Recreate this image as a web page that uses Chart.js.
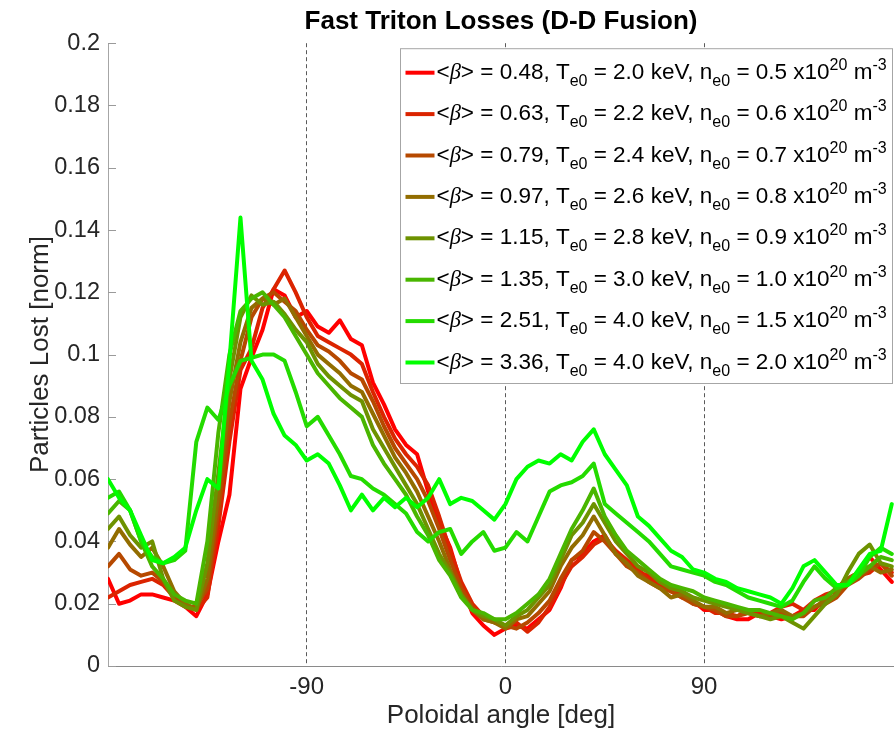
<!DOCTYPE html>
<html>
<head>
<meta charset="utf-8">
<script src="https://cdn.jsdelivr.net/npm/chart.js@4.4.1/dist/chart.umd.min.js"></script>
<style>
  html, body { margin: 0; padding: 0; background: #fff; }
  #wrap { width: 894px; height: 734px; }
</style>
</head>
<body>
<div id="wrap"><canvas id="chart" width="894" height="734"></canvas></div>
<script>
// Poloidal angle grid (deg)
const angles = [-180, -175, -170, -165, -160, -155, -150, -145, -140, -135, -130, -125,
  -120, -115, -110, -105, -100, -95, -90, -85, -80, -75, -70, -65,
  -60, -55, -50, -45, -40, -35, -30, -25, -20, -15, -10, -5,
  0, 5, 10, 15, 20, 25, 30, 35, 40, 45, 50, 55,
  60, 65, 70, 75, 80, 85, 90, 95, 100, 105, 110, 115,
  120, 125, 130, 135, 140, 145, 150, 155, 160, 165, 170, 175];

// Legend parameters
const betaValues = ['0.48', '0.63', '0.79', '0.97', '1.15', '1.35', '2.51', '3.36'];
const teValues = ['2.0', '2.2', '2.4', '2.6', '2.8', '3.0', '4.0', '4.0'];
const neValues = ['0.5', '0.6', '0.7', '0.8', '0.9', '1.0', '1.5', '2.0'];

// Particles lost [norm], one array per case
const loss048 = [0.028, 0.020, 0.021, 0.023, 0.023, 0.022, 0.021, 0.019, 0.016, 0.023, 0.040, 0.055,
  0.089, 0.099, 0.108, 0.121, 0.119, 0.112, 0.114, 0.109, 0.107, 0.111, 0.105, 0.103,
  0.091, 0.084, 0.076, 0.071, 0.068, 0.056, 0.046, 0.038, 0.026, 0.017, 0.013, 0.010,
  0.012, 0.013, 0.012, 0.015, 0.018, 0.025, 0.034, 0.036, 0.040, 0.042, 0.036, 0.033,
  0.030, 0.029, 0.027, 0.024, 0.022, 0.021, 0.018, 0.018, 0.016, 0.015, 0.015, 0.017,
  0.016, 0.015, 0.016, 0.018, 0.018, 0.022, 0.025, 0.028, 0.030, 0.035, 0.031, 0.027];
const loss063 = [0.022, 0.024, 0.026, 0.027, 0.028, 0.026, 0.022, 0.020, 0.018, 0.022, 0.045, 0.072,
  0.095, 0.102, 0.115, 0.121, 0.127, 0.120, 0.112, 0.106, 0.104, 0.102, 0.100, 0.097,
  0.088, 0.080, 0.073, 0.068, 0.064, 0.058, 0.048, 0.037, 0.027, 0.020, 0.016, 0.014,
  0.013, 0.014, 0.011, 0.014, 0.019, 0.026, 0.032, 0.035, 0.039, 0.041, 0.037, 0.034,
  0.031, 0.028, 0.026, 0.024, 0.023, 0.020, 0.019, 0.017, 0.017, 0.016, 0.018, 0.017,
  0.017, 0.019, 0.020, 0.018, 0.021, 0.023, 0.024, 0.027, 0.029, 0.030, 0.033, 0.030];
const loss079 = [0.032, 0.036, 0.031, 0.029, 0.030, 0.027, 0.022, 0.019, 0.019, 0.025, 0.050, 0.078,
  0.098, 0.112, 0.118, 0.120, 0.117, 0.114, 0.108, 0.103, 0.101, 0.098, 0.094, 0.092,
  0.085, 0.077, 0.070, 0.065, 0.060, 0.053, 0.044, 0.034, 0.025, 0.019, 0.015, 0.014,
  0.013, 0.012, 0.014, 0.017, 0.021, 0.028, 0.034, 0.037, 0.043, 0.040, 0.036, 0.032,
  0.030, 0.027, 0.025, 0.024, 0.022, 0.020, 0.019, 0.018, 0.016, 0.016, 0.017, 0.016,
  0.016, 0.017, 0.016, 0.016, 0.019, 0.020, 0.022, 0.026, 0.028, 0.031, 0.033, 0.029];
const loss097 = [0.038, 0.044, 0.039, 0.035, 0.038, 0.032, 0.024, 0.020, 0.018, 0.028, 0.055, 0.085,
  0.104, 0.115, 0.118, 0.116, 0.118, 0.112, 0.106, 0.100, 0.097, 0.094, 0.090, 0.088,
  0.081, 0.074, 0.067, 0.062, 0.056, 0.048, 0.040, 0.031, 0.023, 0.018, 0.015, 0.014,
  0.012, 0.015, 0.016, 0.020, 0.024, 0.032, 0.038, 0.042, 0.048, 0.042, 0.036, 0.033,
  0.029, 0.027, 0.025, 0.022, 0.023, 0.021, 0.019, 0.019, 0.017, 0.018, 0.017, 0.016,
  0.017, 0.018, 0.016, 0.017, 0.019, 0.021, 0.023, 0.028, 0.030, 0.032, 0.030, 0.031];
const loss115 = [0.044, 0.048, 0.042, 0.038, 0.040, 0.028, 0.021, 0.019, 0.018, 0.033, 0.062, 0.092,
  0.112, 0.119, 0.116, 0.117, 0.113, 0.108, 0.104, 0.097, 0.093, 0.090, 0.087, 0.085,
  0.076, 0.070, 0.064, 0.058, 0.052, 0.044, 0.036, 0.030, 0.023, 0.018, 0.016, 0.015,
  0.013, 0.016, 0.018, 0.022, 0.026, 0.034, 0.042, 0.046, 0.052, 0.046, 0.040, 0.036,
  0.032, 0.030, 0.027, 0.025, 0.024, 0.022, 0.021, 0.020, 0.019, 0.018, 0.017, 0.016,
  0.015, 0.016, 0.014, 0.012, 0.016, 0.020, 0.023, 0.030, 0.036, 0.039, 0.033, 0.032];
const loss135 = [0.049, 0.053, 0.050, 0.040, 0.032, 0.028, 0.023, 0.021, 0.020, 0.040, 0.075, 0.100,
  0.114, 0.118, 0.120, 0.116, 0.112, 0.106, 0.100, 0.094, 0.090, 0.086, 0.083, 0.080,
  0.071, 0.065, 0.060, 0.055, 0.048, 0.042, 0.034, 0.029, 0.022, 0.018, 0.017, 0.015,
  0.015, 0.017, 0.020, 0.023, 0.028, 0.036, 0.044, 0.050, 0.057, 0.048, 0.042, 0.037,
  0.034, 0.031, 0.028, 0.026, 0.025, 0.024, 0.022, 0.021, 0.020, 0.019, 0.018, 0.018,
  0.017, 0.016, 0.015, 0.017, 0.021, 0.022, 0.025, 0.027, 0.029, 0.032, 0.035, 0.034];
const loss251 = [0.054, 0.056, 0.050, 0.040, 0.035, 0.033, 0.034, 0.037, 0.072, 0.083, 0.079, 0.090,
  0.098, 0.099, 0.100, 0.100, 0.098, 0.088, 0.077, 0.080, 0.074, 0.068, 0.061, 0.060,
  0.057, 0.055, 0.052, 0.049, 0.043, 0.040, 0.043, 0.044, 0.036, 0.040, 0.043, 0.037,
  0.038, 0.043, 0.040, 0.048, 0.056, 0.058, 0.059, 0.061, 0.065, 0.052, 0.049, 0.046,
  0.043, 0.040, 0.036, 0.032, 0.031, 0.030, 0.029, 0.027, 0.026, 0.024, 0.022, 0.021,
  0.020, 0.019, 0.021, 0.027, 0.032, 0.028, 0.025, 0.026, 0.029, 0.035, 0.038, 0.036];
const loss336 = [0.060, 0.054, 0.050, 0.042, 0.034, 0.033, 0.035, 0.038, 0.050, 0.060, 0.057, 0.098,
  0.144, 0.098, 0.092, 0.081, 0.074, 0.071, 0.066, 0.068, 0.065, 0.058, 0.050, 0.055,
  0.050, 0.054, 0.051, 0.054, 0.051, 0.054, 0.060, 0.052, 0.054, 0.053, 0.050, 0.047,
  0.052, 0.060, 0.064, 0.066, 0.065, 0.068, 0.066, 0.072, 0.076, 0.068, 0.063, 0.058,
  0.048, 0.045, 0.041, 0.037, 0.035, 0.031, 0.030, 0.028, 0.027, 0.025, 0.024, 0.023,
  0.022, 0.020, 0.025, 0.032, 0.034, 0.030, 0.026, 0.026, 0.031, 0.036, 0.037, 0.052];

const allLosses = [loss048, loss063, loss079, loss097, loss115, loss135, loss251, loss336];

// Axis ticks
const xTicks = [-90, 0, 90];
const yTicks = [0, 0.02, 0.04, 0.06, 0.08, 0.1, 0.12, 0.14, 0.16, 0.18, 0.2];

// red -> green
const lineColors = ['#ff0000', '#db2400', '#b64900', '#926d00', '#6d9200', '#49b600', '#24db00', '#00ff00'];

const FONT = "'Liberation Sans', Arial, Helvetica, sans-serif";
const TXT = '#262626';

// MATLAB style inner ticks on the y axis
const innerTicks = {
  id: 'innerTicks',
  beforeDatasetsDraw(chart) {
    const { ctx, chartArea, scales } = chart;
    ctx.save();
    ctx.strokeStyle = '#9a9a9a';
    ctx.lineWidth = 1;
    scales.y.ticks.forEach(t => {
      const py = Math.round(scales.y.getPixelForValue(t.value)) + 0.5;
      ctx.beginPath();
      ctx.moveTo(chartArea.left, py);
      ctx.lineTo(chartArea.left + 8, py);
      ctx.stroke();
    });
    ctx.restore();
  }
};

// legend with sub/superscripts
const texLegend = {
  id: 'texLegend',
  afterDatasetsDraw(chart) {
    const { ctx, chartArea } = chart;
    const size = 22.5, small = 16, rowH = 41.4;
    const fontFor = s => s.it ? `italic ${size}px 'Liberation Serif', serif`
      : `${(s.sub || s.sup) ? small : size}px ${FONT}`;
    const rows = betaValues.map((b, i) => [
      { t: '<' }, { t: '\u03B2', it: true }, { t: '> = ' + b + ', T' }, { t: 'e0', sub: true },
      { t: ' = ' + teValues[i] + ' keV, n' }, { t: 'e0', sub: true },
      { t: ' = ' + neValues[i] + ' x10' }, { t: '20', sup: true }, { t: ' m' }, { t: '-3', sup: true }
    ]);
    const widthOf = segs => segs.reduce((w, s) => { ctx.font = fontFor(s); return w + ctx.measureText(s.t).width; }, 0);
    const maxW = Math.max(...rows.map(widthOf));
    const right = chartArea.right - 1.5;
    const top = chartArea.top + 5.5;
    const left = Math.round(right - (36 + maxW + 6)) + 0.5;
    const height = 24 + rowH * (rows.length - 1) + 21;

    ctx.save();
    ctx.fillStyle = '#fff';
    ctx.fillRect(left, top, right - left, height);
    ctx.strokeStyle = '#a6a6a6';
    ctx.lineWidth = 1;
    ctx.strokeRect(left, top, right - left, height);

    rows.forEach((segs, i) => {
      const cy = top + 24 + rowH * i;
      ctx.strokeStyle = lineColors[i];
      ctx.lineWidth = 4;
      ctx.beginPath();
      ctx.moveTo(left + 5, cy);
      ctx.lineTo(left + 34, cy);
      ctx.stroke();

      let x = left + 36;
      const base = cy + 6;
      ctx.fillStyle = '#000';
      ctx.textBaseline = 'alphabetic';
      ctx.textAlign = 'left';
      segs.forEach(s => {
        ctx.font = fontFor(s);
        const y = s.sub ? base + 7 : s.sup ? base - 9 : base;
        ctx.fillText(s.t, x, y);
        x += ctx.measureText(s.t).width;
      });
    });
    ctx.restore();
  }
};

const datasets = allLosses.map((vals, i) => ({
  label: '<\u03B2> = ' + betaValues[i],
  data: angles.map((a, k) => ({ x: a, y: vals[k] })),
  borderColor: lineColors[i],
  backgroundColor: lineColors[i],
  borderWidth: 4,
  pointRadius: 0,
  tension: 0,
  fill: false,
  borderJoinStyle: 'round',
  borderCapStyle: 'round',
  order: allLosses.length - i
}));

new Chart(document.getElementById('chart'), {
  type: 'line',
  data: { datasets },
  options: {
    responsive: false,
    animation: false,
    devicePixelRatio: 1,
    events: [],
    layout: { padding: 0 },
    plugins: {
      legend: { display: false },
      tooltip: { enabled: false },
      title: {
        display: true,
        fullSize: false,
        text: 'Fast Triton Losses (D-D Fusion)',
        color: '#000',
        font: { family: FONT, size: 26, weight: 'bold' },
        padding: { top: 6, bottom: 6 }
      }
    },
    scales: {
      x: {
        type: 'linear',
        min: -180,
        max: 176,
        afterBuildTicks: s => { s.ticks = xTicks.map(v => ({ value: v })); },
        afterFit: s => { s.height = 68; },
        grid: { color: '#5a5a5a', lineWidth: 1, drawTicks: false },
        border: { color: '#8a8a8a', width: 1, dash: [4, 3] },
        ticks: { font: { family: FONT, size: 24 }, color: TXT, padding: 7, maxRotation: 0 },
        title: {
          display: true, text: 'Poloidal angle [deg]', color: TXT,
          font: { family: FONT, size: 26 }, padding: { top: 0, bottom: 3 }
        }
      },
      y: {
        min: 0,
        max: 0.2,
        afterBuildTicks: s => { s.ticks = yTicks.map(v => ({ value: v })); },
        afterFit: s => { s.width = 108; },
        grid: { display: false, drawTicks: false },
        border: { color: '#a6a6a6', width: 1 },
        ticks: {
          font: { family: FONT, size: 23.5 }, color: TXT, padding: 8,
          callback: v => String(+v.toFixed(2))
        },
        title: {
          display: true, text: 'Particles Lost [norm]', color: TXT,
          font: { family: FONT, size: 26 }, padding: { top: 25, bottom: 0 }
        }
      }
    }
  },
  plugins: [innerTicks, texLegend]
});
</script>
</body>
</html>
